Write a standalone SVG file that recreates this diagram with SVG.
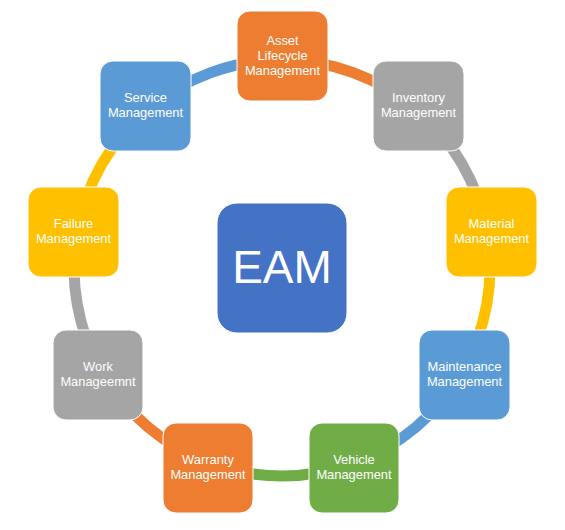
<svg xmlns="http://www.w3.org/2000/svg" width="565" height="530" viewBox="0 0 565 530">
<style>
.ring{fill:none;stroke-width:11}
.box{stroke:#fff;stroke-width:1}
.lbl{font-family:"Liberation Sans",Arial,sans-serif;font-size:12.9px;fill:#fff;text-anchor:middle}
.big{font-family:"Liberation Sans",Arial,sans-serif;font-size:46px;fill:#fff;text-anchor:middle}
.orange{fill:#ED7D31}.gray{fill:#A5A5A5}.yellow{fill:#FFC000}.blue{fill:#5B9BD5}.green{fill:#70AD47}.dark{fill:#4472C4}
</style>
<rect width="565" height="530" fill="#fff"/>
<g id="connectors">
<path class="ring" stroke="#ED7D31" d="M282 60 A208 208 0 0 1 415.7 108.7"/>
<path class="ring" stroke="#A5A5A5" d="M415.7 108.7 A208 208 0 0 1 486.8 231.9"/>
<path class="ring" stroke="#FFC000" d="M486.8 231.9 A208 208 0 0 1 462.1 372"/>
<path class="ring" stroke="#5B9BD5" d="M462.1 372 A208 208 0 0 1 353.1 463.5"/>
<path class="ring" stroke="#70AD47" d="M353.1 463.5 A208 208 0 0 1 210.9 463.5"/>
<path class="ring" stroke="#ED7D31" d="M210.9 463.5 A208 208 0 0 1 101.9 372"/>
<path class="ring" stroke="#A5A5A5" d="M101.9 372 A208 208 0 0 1 77.2 231.9"/>
<path class="ring" stroke="#FFC000" d="M77.2 231.9 A208 208 0 0 1 148.3 108.7"/>
<path class="ring" stroke="#5B9BD5" d="M148.3 108.7 A208 208 0 0 1 282 60"/>
</g>
<g id="eam">
<rect class="box dark" x="217" y="203" width="130" height="130" rx="20"/>
<text class="big" x="282" y="283">EAM</text>
</g>
<g id="asset">
<rect class="box orange" x="237" y="11" width="91" height="90" rx="13"/>
<text class="lbl" x="282.5" y="45">Asset</text>
<text class="lbl" x="282.5" y="60">Lifecycle</text>
<text class="lbl" x="282.5" y="75">Management</text>
</g>
<g id="inventory">
<rect class="box gray" x="373" y="61" width="91" height="90" rx="13"/>
<text class="lbl" x="418.5" y="102">Inventory</text>
<text class="lbl" x="418.5" y="117">Management</text>
</g>
<g id="material">
<rect class="box yellow" x="446" y="187" width="91" height="90" rx="13"/>
<text class="lbl" x="491.5" y="228">Material</text>
<text class="lbl" x="491.5" y="243">Management</text>
</g>
<g id="maintenance">
<rect class="box blue" x="419" y="330" width="91" height="90" rx="13"/>
<text class="lbl" x="464.5" y="371">Maintenance</text>
<text class="lbl" x="464.5" y="386">Management</text>
</g>
<g id="vehicle">
<rect class="box green" x="309" y="423" width="90" height="90" rx="13"/>
<text class="lbl" x="354" y="464">Vehicle</text>
<text class="lbl" x="354" y="479">Management</text>
</g>
<g id="warranty">
<rect class="box orange" x="163" y="423" width="90" height="90" rx="13"/>
<text class="lbl" x="208" y="464">Warranty</text>
<text class="lbl" x="208" y="479">Management</text>
</g>
<g id="work">
<rect class="box gray" x="53" y="330" width="90" height="90" rx="13"/>
<text class="lbl" x="98" y="371">Work</text>
<text class="lbl" x="98" y="386">Manageemnt</text>
</g>
<g id="failure">
<rect class="box yellow" x="28" y="187" width="91" height="90" rx="13"/>
<text class="lbl" x="73.5" y="228">Failure</text>
<text class="lbl" x="73.5" y="243">Management</text>
</g>
<g id="service">
<rect class="box blue" x="100" y="61" width="91" height="90" rx="13"/>
<text class="lbl" x="145.5" y="102">Service</text>
<text class="lbl" x="145.5" y="117">Management</text>
</g>
</svg>
